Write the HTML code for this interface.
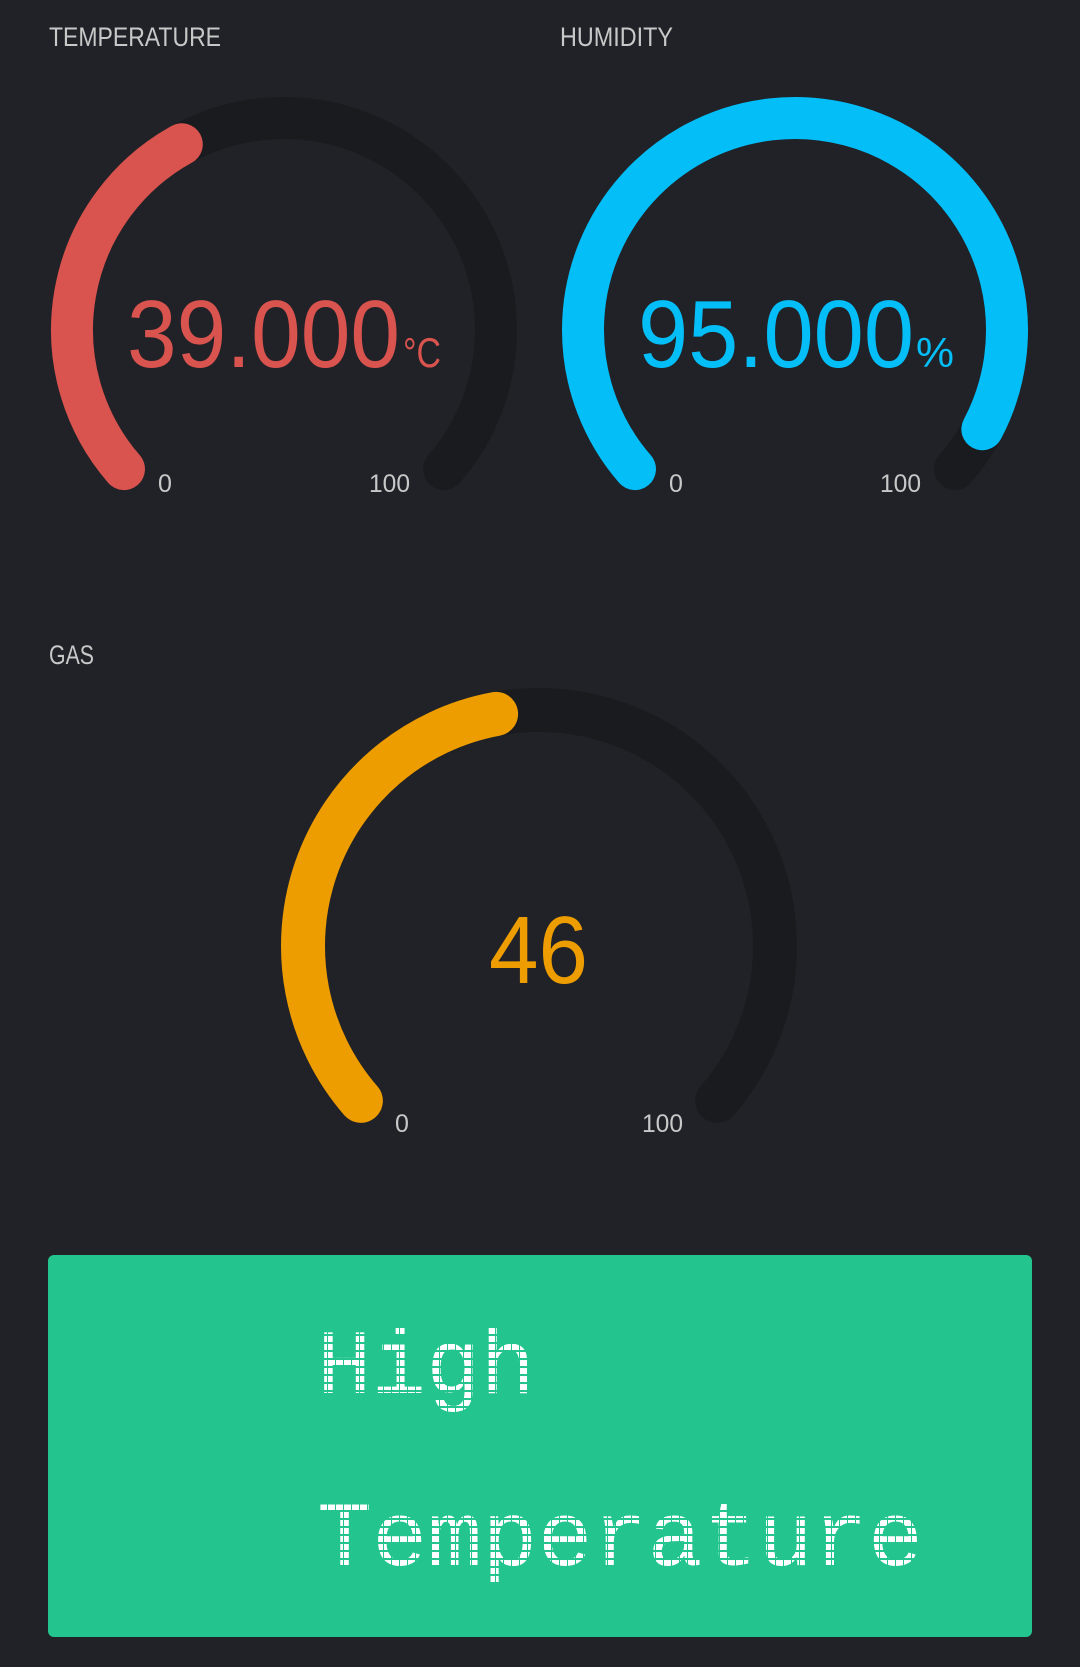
<!DOCTYPE html>
<html><head><meta charset="utf-8"><style>
html,body{margin:0;padding:0;background:#212227;}
body{width:1080px;height:1667px;overflow:hidden;position:relative;font-family:"Liberation Sans",sans-serif;}
svg{position:absolute;left:0;top:0;}
</style></head><body>
<svg width="1080" height="1667" viewBox="0 0 1080 1667">
  <defs>
    <pattern id="dots" x="0" y="0" width="8" height="8" patternUnits="userSpaceOnUse">
      <rect x="0" y="0" width="7" height="6" fill="#ffffff"/>
    </pattern>
  </defs>
  <rect x="0" y="0" width="1080" height="1667" fill="#212227"/>
  <g id="gauges"></g>
  <text x="49" y="46" font-size="27" fill="#c8c8c8" textLength="172" lengthAdjust="spacingAndGlyphs">TEMPERATURE</text>
  <text x="560" y="46" font-size="27" fill="#c8c8c8" textLength="113" lengthAdjust="spacingAndGlyphs">HUMIDITY</text>
  <text x="49" y="664" font-size="27" fill="#c8c8c8" textLength="45" lengthAdjust="spacingAndGlyphs">GAS</text>

  <rect x="48" y="1255" width="984" height="382" rx="6" fill="#23c48e"/>
  <text x="317" y="1393" font-family="Liberation Mono, monospace" font-size="92" fill="url(#dots)" textLength="218" lengthAdjust="spacingAndGlyphs">High</text>
  <text x="317" y="1565" font-family="Liberation Mono, monospace" font-size="92" fill="url(#dots)" textLength="606" lengthAdjust="spacingAndGlyphs">Temperature</text>
</svg>
<script>
const gaugeNames = ['temperature', 'humidity', 'gas'];
const gaugeValues = [39, 95, 46];
const gaugeLabels = ['39.000', '95.000', '46'];
const gaugeUnits = ['°C', '%', ''];
const gaugeMin = [0, 0, 0];
const gaugeMax = [100, 100, 100];

const layout = [
  {cx:284, cy:330, r:212, sw:42, color:'#d9534f', vx:127, vw:273, vy:367, ux:403, tick0x:158, tick100x:369, ty:492},
  {cx:795, cy:330, r:212, sw:42, color:'#04bef8', vx:638, vw:276, vy:367, ux:916, tick0x:669, tick100x:880, ty:492},
  {cx:539, cy:946, r:236, sw:44, color:'#ed9d00', vx:489, vw:99, vy:983, ux:0, tick0x:395, tick100x:642, ty:1132}
];
const NS='http://www.w3.org/2000/svg';
const g=document.getElementById('gauges');
const A0=-131, A1=131;
function ang(v,i){return A0+(v-gaugeMin[i])/(gaugeMax[i]-gaugeMin[i])*(A1-A0);}
function pt(L,a){const r=a*Math.PI/180;return [L.cx+L.r*Math.sin(r), L.cy-L.r*Math.cos(r)];}
function arc(L,a0,a1){const p0=pt(L,a0),p1=pt(L,a1);const large=(a1-a0)>180?1:0;
  return `M${p0[0]} ${p0[1]} A${L.r} ${L.r} 0 ${large} 1 ${p1[0]} ${p1[1]}`;}
function mk(tag,attrs){const e=document.createElementNS(NS,tag);for(const k in attrs)e.setAttribute(k,attrs[k]);return e;}
gaugeNames.forEach((n,i)=>{
  const L=layout[i];
  const track=mk('path',{d:arc(L,A0,A1),stroke:'#1a1b1f','stroke-width':L.sw,fill:'none','stroke-linecap':'round'});
  
  
  g.appendChild(track);
  const bar=mk('path',{d:arc(L,A0,ang(gaugeValues[i],i)),stroke:L.color,'stroke-width':L.sw,fill:'none','stroke-linecap':'round'});
  
  
  g.appendChild(bar);
  const val=mk('text',{x:L.vx,y:L.vy,'font-size':96,fill:L.color,textLength:L.vw,lengthAdjust:'spacingAndGlyphs'});
  val.textContent=gaugeLabels[i];
  
  
  g.appendChild(val);
  if(gaugeUnits[i]){
    const u=mk('text',{x:L.ux,y:L.vy,'font-size':42,fill:L.color,textLength:38,lengthAdjust:'spacingAndGlyphs'});
    u.textContent=gaugeUnits[i];
    
    
    g.appendChild(u);
  }
  const t0=mk('text',{x:L.tick0x,y:L.ty,'font-size':25,fill:'#c8c8c8'});
  t0.textContent=String(gaugeMin[i]);
  
  
  g.appendChild(t0);
  const t1=mk('text',{x:L.tick100x,y:L.ty,'font-size':25,fill:'#c8c8c8',textLength:41,lengthAdjust:'spacingAndGlyphs'});
  t1.textContent=String(gaugeMax[i]);
  
  
  g.appendChild(t1);
});
</script>
</body></html>
